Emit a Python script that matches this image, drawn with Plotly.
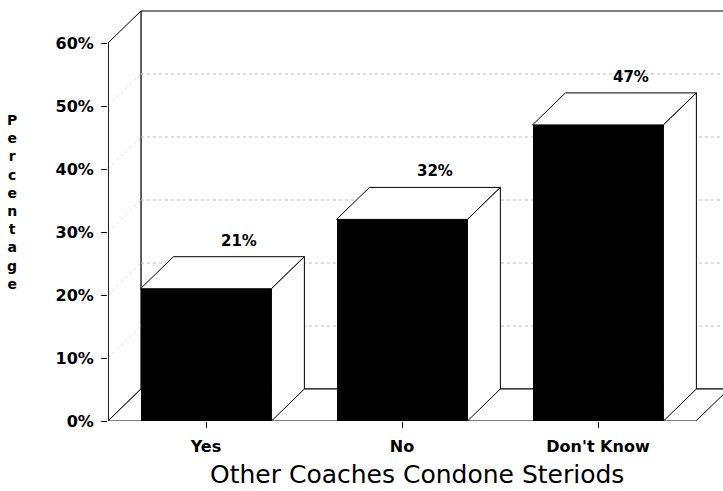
import plotly.graph_objects as go

# Survey answers and the share of respondents giving each one
categories = ["Yes", "No", "Don't Know"]
percentages = [21, 32, 47]
y_ticks = [0, 10, 20, 30, 40, 50, 60]
y_tick_labels = ["0%", "10%", "20%", "30%", "40%", "50%", "60%"]

x_title = "Other Coaches Condone Steriods"
y_title = "Percentage"

# Pseudo-3D geometry (in axis units)
BAR_W = 0.668      # front face width
DX = 0.168         # depth offset along x
DY = 5.08          # depth offset along y (percent)
X_LO, X_HI = -0.5, 2.5
Y_TOP = 60

FONT = "DejaVu Sans"

fig = go.Figure()

# Front faces of the bars
xs = list(range(len(categories)))
fig.add_trace(go.Bar(
    x=xs, y=percentages, width=BAR_W,
    marker=dict(color="black", line=dict(width=0)),
    hoverinfo="skip", showlegend=False,
))

# Top and right-side faces of each bar
for xi, v in zip(xs, percentages):
    x0, x1 = xi - BAR_W / 2, xi + BAR_W / 2
    fig.add_trace(go.Scatter(
        x=[x0, x1, x1 + DX, x0 + DX, x0],
        y=[v, v, v + DY, v + DY, v],
        mode="lines", fill="toself", fillcolor="white",
        line=dict(color="black", width=1),
        hoverinfo="skip", showlegend=False,
    ))
    fig.add_trace(go.Scatter(
        x=[x1, x1, x1 + DX, x1 + DX, x1],
        y=[0, v, v + DY, DY, 0],
        mode="lines", fill="toself", fillcolor="white",
        line=dict(color="black", width=1),
        hoverinfo="skip", showlegend=False,
    ))

shapes = []


def poly(pts, fill="white", color="black", width=1, dash="solid"):
    path = "M " + " L ".join(f"{x},{y}" for x, y in pts) + " Z"
    return dict(type="path", path=path, xref="x", yref="y", layer="below",
                fillcolor=fill, line=dict(color=color, width=width, dash=dash))


def seg(x0, y0, x1, y1, color="black", width=1, dash="solid"):
    return dict(type="line", x0=x0, y0=y0, x1=x1, y1=y1, xref="x", yref="y",
                layer="below", line=dict(color=color, width=width, dash=dash))


# Back wall, left wall and floor
shapes.append(poly([(X_LO + DX, DY), (X_HI + DX, DY), (X_HI + DX, Y_TOP + DY), (X_LO + DX, Y_TOP + DY)]))
shapes.append(poly([(X_LO, 0), (X_LO + DX, DY), (X_LO + DX, Y_TOP + DY), (X_LO, Y_TOP)]))
shapes.append(poly([(X_LO, 0), (X_HI, 0), (X_HI + DX, DY), (X_LO + DX, DY)]))

# Faint dotted gridlines on the back and left walls
for t in y_ticks[1:-1]:
    shapes.append(seg(X_LO + DX, t + DY, X_HI + DX, t + DY, color="#bdbdbd", dash="dot"))
    shapes.append(seg(X_LO, t, X_LO + DX, t + DY, color="#e0e0e0", dash="dot"))

# Front vertical axis line
shapes.append(seg(X_LO, 0, X_LO, Y_TOP, width=1.5))

annotations = []
for xi, v in zip(xs, percentages):
    annotations.append(dict(
        x=xi + DX, y=v + DY, xref="x", yref="y", text=f"{v}%",
        showarrow=False, yanchor="middle", yshift=16,
        font=dict(family=FONT, size=15, color="black", weight="bold"),
    ))

# Vertical stacked-letter y title
annotations.append(dict(
    x=-0.156, y=0.53, xref="paper", yref="paper",
    text="<br>".join(y_title), showarrow=False,
    xanchor="center", yanchor="middle", align="center",
    font=dict(family=FONT, size=14, color="black", weight="bold"),
))
annotations.append(dict(
    x=0.503, y=-0.13, xref="paper", yref="paper", text=x_title,
    showarrow=False, xanchor="center", yanchor="middle",
    font=dict(family=FONT, size=25, color="black"),
))

fig.update_layout(
    width=723, height=491,
    margin=dict(l=108, r=0, t=8, b=70),
    paper_bgcolor="white", plot_bgcolor="white",
    shapes=shapes, annotations=annotations,
    bargap=0,
    xaxis=dict(
        range=[-0.5, -0.5 + 615 / 196], tickvals=xs, ticktext=categories,
        ticks="outside", ticklen=6, tickcolor="black", showgrid=False,
        zeroline=False, showline=False, ticklabelstandoff=5,
        tickfont=dict(family=FONT, size=16, color="black", weight="bold"),
    ),
    yaxis=dict(
        range=[0, 413 / 6.3], tickvals=y_ticks, ticktext=y_tick_labels,
        ticks="outside", ticklen=6, tickcolor="black", showgrid=False,
        zeroline=False, showline=False, ticklabelstandoff=4,
        tickfont=dict(family=FONT, size=16, color="black", weight="bold"),
    ),
)

fig.write_html("out.html")
